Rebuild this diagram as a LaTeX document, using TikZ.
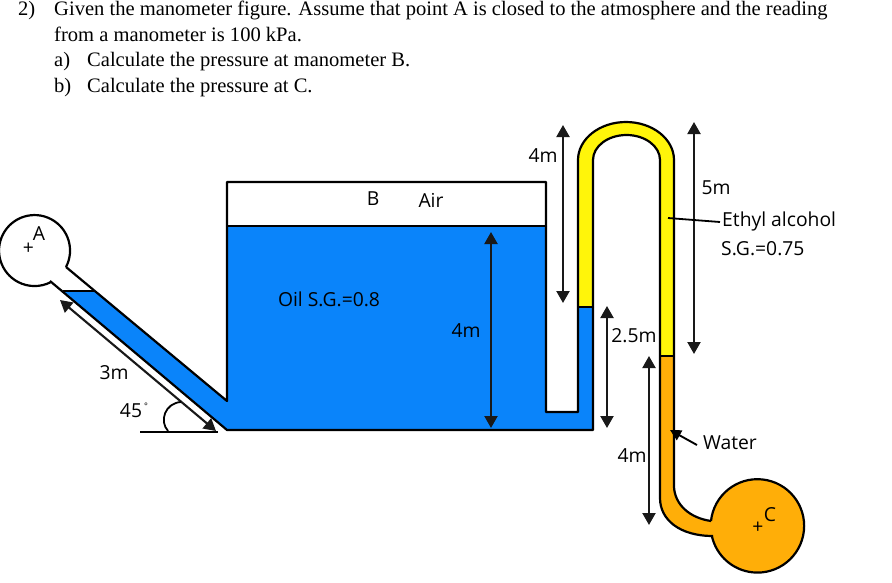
\documentclass[tikz,border=0pt]{standalone}
\usepackage{fontspec}
\setmainfont{Liberation Serif}
\newfontfamily\labelfont{Open Sans}
\usetikzlibrary{arrows.meta}
\definecolor{oilblue}{RGB}{10,132,250}
\definecolor{alcohol}{RGB}{255,245,10}
\definecolor{waterorange}{RGB}{255,174,8}
\tikzset{
 x=1pt,y=-1pt,
 wall/.style={draw=black,line width=2.2pt,line join=round},
 dim/.style={draw=black!90,line width=2.1pt,{Triangle[length=12pt,width=13pt]}-{Triangle[length=12pt,width=13pt]}},
 lbl/.style={font=\labelfont\fontsize{19.3}{21}\selectfont,inner sep=0pt,text=black},
 para/.style={font=\fontsize{20.55}{22}\selectfont,anchor=base west,inner sep=0pt,text=black},
}
\begin{document}
\begin{tikzpicture}
\useasboundingbox (0,0) rectangle (892,582);
\fill[white] (0,0) rectangle (892,582);
% text
\node[para] (t1) at (18,15) {2)};
\node[para] (t2) at (54,15) {Given the manometer figure. Assume that point A is closed to the atmosphere and the reading};
\node[para] (t3) at (54,41) {from a manometer is 100 kPa.};
\node[para] (t4) at (54,66) {a)};
\node[para] (t5) at (87,66) {Calculate the pressure at manometer B.};
\node[para] (t6) at (54,92) {b)};
\node[para] (t7) at (87,92) {Calculate the pressure at C.};
% fluids
\fill[oilblue] (63,291) -- (95,291) -- (227,401) -- (227,226) -- (546,226) -- (546,412) -- (578,412) -- (578,307) -- (593,307) -- (593,430) -- (227,430) -- cycle;
\fill[alcohol] (578,307) -- (578,160) arc[start angle=180,end angle=360,x radius=48,y radius=38] -- (674,356) -- (660,356) -- (660,160) arc[start angle=360,end angle=180,x radius=33.5,y radius=25] -- (593,307) -- cycle;
\fill[waterorange] (660,356) -- (674,356) -- (674,487) .. controls (675,505) and (690,518) .. (713,521) -- (713,536) .. controls (680,536) and (660,520) .. (660,498) -- cycle;
\fill[waterorange] (757.5,526) circle[radius=46.5];
% walls
\draw[wall] (546,226) -- (546,182) -- (227,182) -- (227,401) -- (66,267);
\draw[wall] (227,226) -- (546,226);
\draw[wall] (546,226) -- (546,412) -- (578,412) -- (578,160) arc[start angle=180,end angle=360,x radius=48,y radius=38] -- (674,487) .. controls (675,505) and (690,518) .. (711,521);
\draw[wall] (593,307) -- (593,160) arc[start angle=180,end angle=360,x radius=33.5,y radius=25] -- (660,498) .. controls (660,520) and (680,536) .. (713,536);
\draw[wall] (593,307) -- (593,430) -- (227,430) -- (50,281);
\draw[wall,line width=1.3pt] (578,307) -- (593,307);
\draw[wall,line width=1.3pt] (660,356) -- (674,356);
\draw[wall,line width=1.3pt] (63,291) -- (95,291);
\draw[wall] (66,267) arc[start angle=27.6,end angle=-297,radius=35.5];
\draw[wall] (711,521) arc[start angle=186,end angle=527,radius=46.7];
% dimensions
\coordinate (a1) at (563,125); \coordinate (a2) at (563,303);
\coordinate (b1) at (694,122); \coordinate (b2) at (694,354);
\coordinate (c1) at (491,232); \coordinate (c2) at (491,428);
\coordinate (d1) at (607,306); \coordinate (d2) at (607,428);
\coordinate (e1) at (649,356); \coordinate (e2) at (649,525);
\coordinate (f1) at (60,300); \coordinate (f2) at (216,431);
\draw[dim] (a1) -- (a2);
\draw[dim] (b1) -- (b2);
\draw[dim] (c1) -- (c2);
\draw[dim] (d1) -- (d2);
\draw[dim] (e1) -- (e2);
\draw[dim] (f1) -- (f2);
% angle
\coordinate (g1) at (140,432); \coordinate (g2) at (218,432);
\draw[wall] (g1) -- (g2);
\draw[wall,line width=1.8pt] (168,431) .. controls (159,421) and (165,403) .. (181,402);
% leaders
\coordinate (h1) at (668,218); \coordinate (h2) at (720,222);
\draw[wall,line width=1.8pt] (h1) -- (h2);
\coordinate (w1) at (697,445); \coordinate (w2) at (670,430);
\draw[wall,line width=1.9pt,-{Triangle[length=11pt,width=11pt]}] (w1) -- (w2);
% labels
\node[lbl] (lB) at (373,199) {B};
\node[lbl] (lAir) at (431,200) {Air};
\node[lbl] (lOil) at (329,299) {Oil S.G.=0.8};
\node[lbl] (l4a) at (466,331) {4m};
\node[lbl] (l4b) at (543,156) {4m};
\node[lbl] (l5) at (716,188) {5m};
\node[lbl,anchor=west] (lEth) at (722,221) {Ethyl alcohol};
\node[lbl,anchor=west] (lSG) at (721,249) {S.G.=0.75};
\node[lbl] (l25) at (634,336) {2.5m};
\node[lbl] (l4c) at (632,456) {4m};
\node[lbl] (lW) at (730,443) {Water};
\node[lbl] (l3) at (114,373) {3m};
\node[lbl] (l45) at (131,411) {45};
\node[lbl,font=\labelfont\fontsize{9}{10}\selectfont] (ldeg) at (146,406) {°};
\node[lbl] (lA) at (39,234) {A};
\node[lbl] (pA) at (28.5,249) {+};
\node[lbl] (lC) at (770,515) {C};
\node[lbl] (pC) at (758,528) {+};
\end{tikzpicture}
\end{document}
